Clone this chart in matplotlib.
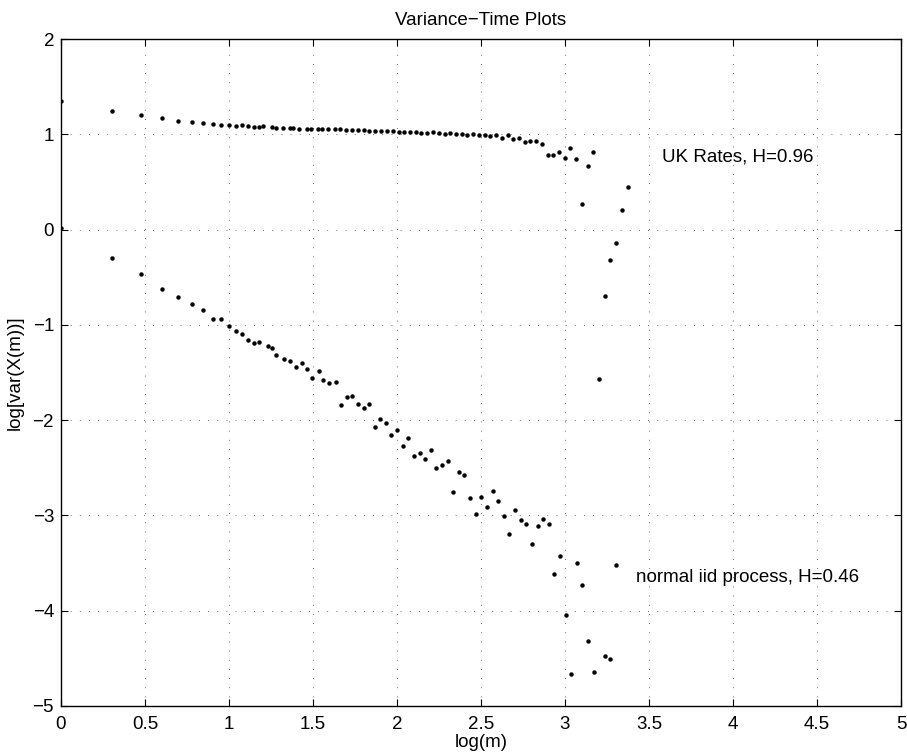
import matplotlib
matplotlib.use('Agg')
import matplotlib.pyplot as plt

plt.rcParams['font.family'] = ['Liberation Sans', 'DejaVu Sans']

# UK rates series: log(m) vs log[var(X(m))]
uk_x = [0, 0.301, 0.477, 0.602, 0.699, 0.778, 0.845, 0.903, 0.954, 1.0,
        1.041, 1.079, 1.114, 1.146, 1.176, 1.204, 1.255, 1.279, 1.322, 1.362,
        1.380, 1.415, 1.462, 1.491, 1.531, 1.556, 1.591, 1.633, 1.663, 1.699,
        1.732, 1.768, 1.802, 1.835, 1.871, 1.905, 1.940, 1.974, 2.010, 2.043,
        2.077, 2.113, 2.145, 2.179, 2.214, 2.248, 2.284, 2.317, 2.351, 2.385,
        2.418, 2.452, 2.488, 2.522, 2.555, 2.589, 2.623, 2.659, 2.692, 2.726,
        2.760, 2.793, 2.827, 2.863, 2.897, 2.930, 2.964, 2.998, 3.032, 3.065,
        3.101, 3.135, 3.168, 3.205, 3.236, 3.270, 3.304, 3.339, 3.373]
uk_y = [1.354, 1.242, 1.204, 1.172, 1.144, 1.130, 1.116, 1.112, 1.102, 1.099,
        1.091, 1.099, 1.088, 1.078, 1.078, 1.085, 1.074, 1.070, 1.067, 1.064,
        1.064, 1.060, 1.057, 1.057, 1.053, 1.053, 1.053, 1.051, 1.051, 1.048,
        1.044, 1.043, 1.046, 1.039, 1.039, 1.036, 1.036, 1.032, 1.025, 1.025,
        1.025, 1.025, 1.018, 1.018, 1.025, 1.018, 1.007, 1.018, 1.007, 1.004,
        0.997, 1.004, 0.990, 0.994, 0.980, 0.990, 0.959, 0.990, 0.952, 0.965,
        0.920, 0.931, 0.931, 0.896, 0.787, 0.784, 0.819, 0.756, 0.861, 0.745,
        0.270, 0.672, 0.815, -1.563, -0.699, -0.318, -0.136, 0.210, 0.451]

# normal iid process series
iid_x = [0, 0.301, 0.477, 0.602, 0.699, 0.778, 0.845, 0.903, 0.954, 1.0,
         1.041, 1.079, 1.114, 1.146, 1.176, 1.234, 1.256, 1.280, 1.326, 1.365,
         1.401, 1.435, 1.466, 1.494, 1.534, 1.560, 1.595, 1.637, 1.665, 1.702,
         1.734, 1.766, 1.802, 1.835, 1.867, 1.899, 1.933, 1.966, 2.002, 2.036,
         2.067, 2.103, 2.135, 2.169, 2.200, 2.234, 2.270, 2.302, 2.335, 2.369,
         2.401, 2.436, 2.469, 2.502, 2.536, 2.570, 2.603, 2.635, 2.668, 2.702,
         2.736, 2.770, 2.804, 2.837, 2.871, 2.903, 2.936, 2.972, 3.004, 3.038,
         3.070, 3.103, 3.139, 3.171, 3.238, 3.270, 3.306]
iid_y = [0.015, -0.300, -0.465, -0.625, -0.706, -0.776, -0.846, -0.940, -0.934, -1.014,
         -1.066, -1.094, -1.154, -1.186, -1.178, -1.217, -1.238, -1.318, -1.354, -1.378,
         -1.441, -1.396, -1.465, -1.560, -1.483, -1.577, -1.605, -1.602, -1.836, -1.752,
         -1.742, -1.826, -1.868, -1.832, -2.073, -1.986, -2.025, -2.151, -2.102, -2.270,
         -2.186, -2.375, -2.340, -2.409, -2.315, -2.500, -2.469, -2.434, -2.749, -2.546,
         -2.571, -2.812, -2.986, -2.802, -2.910, -2.739, -2.850, -3.001, -3.193, -2.941,
         -3.046, -3.091, -3.298, -3.116, -3.036, -3.091, -3.610, -3.431, -4.043, -4.662,
         -3.497, -3.728, -4.313, -4.641, -4.480, -4.505, -3.518]

fig = plt.figure(figsize=(9.07, 7.56), dpi=100)
ax = fig.add_axes([61 / 907, 50 / 756, 840 / 907, 667 / 756])

ax.plot(uk_x, uk_y, 'o', color='black', markersize=3.2, markeredgewidth=0)
ax.plot(iid_x, iid_y, 'o', color='black', markersize=3.2, markeredgewidth=0)

fs = 13.5
ax.text(3.577, 0.763, 'UK Rates, H=0.96', fontsize=fs, va='center', ha='left')
ax.text(3.423, -3.648, 'normal iid process, H=0.46', fontsize=fs, va='center', ha='left')

ax.set_xlim(0, 5)
ax.set_ylim(-5, 2)
ax.set_xticks([0, 0.5, 1, 1.5, 2, 2.5, 3, 3.5, 4, 4.5, 5])
ax.set_xticklabels(['0', '0.5', '1', '1.5', '2', '2.5', '3', '3.5', '4', '4.5', '5'])
ax.set_yticks(range(-5, 3))

ax.grid(True, color='0.25', linestyle=(0, (1, 10)), linewidth=0.6)
ax.tick_params(direction='in', top=True, right=True, length=5, width=0.8,
               labelsize=fs)
ax.tick_params(axis='x', pad=7)
ax.tick_params(axis='y', pad=5)
for s in ax.spines.values():
    s.set_linewidth(1.0)

ax.set_title('Variance\u2212Time Plots', fontsize=fs, pad=10)
ax.set_xlabel('log(m)', fontsize=fs, labelpad=1)
ax.set_ylabel('log[var(X(m))]', fontsize=fs, labelpad=6)

fig.savefig('out.png', dpi=100)
